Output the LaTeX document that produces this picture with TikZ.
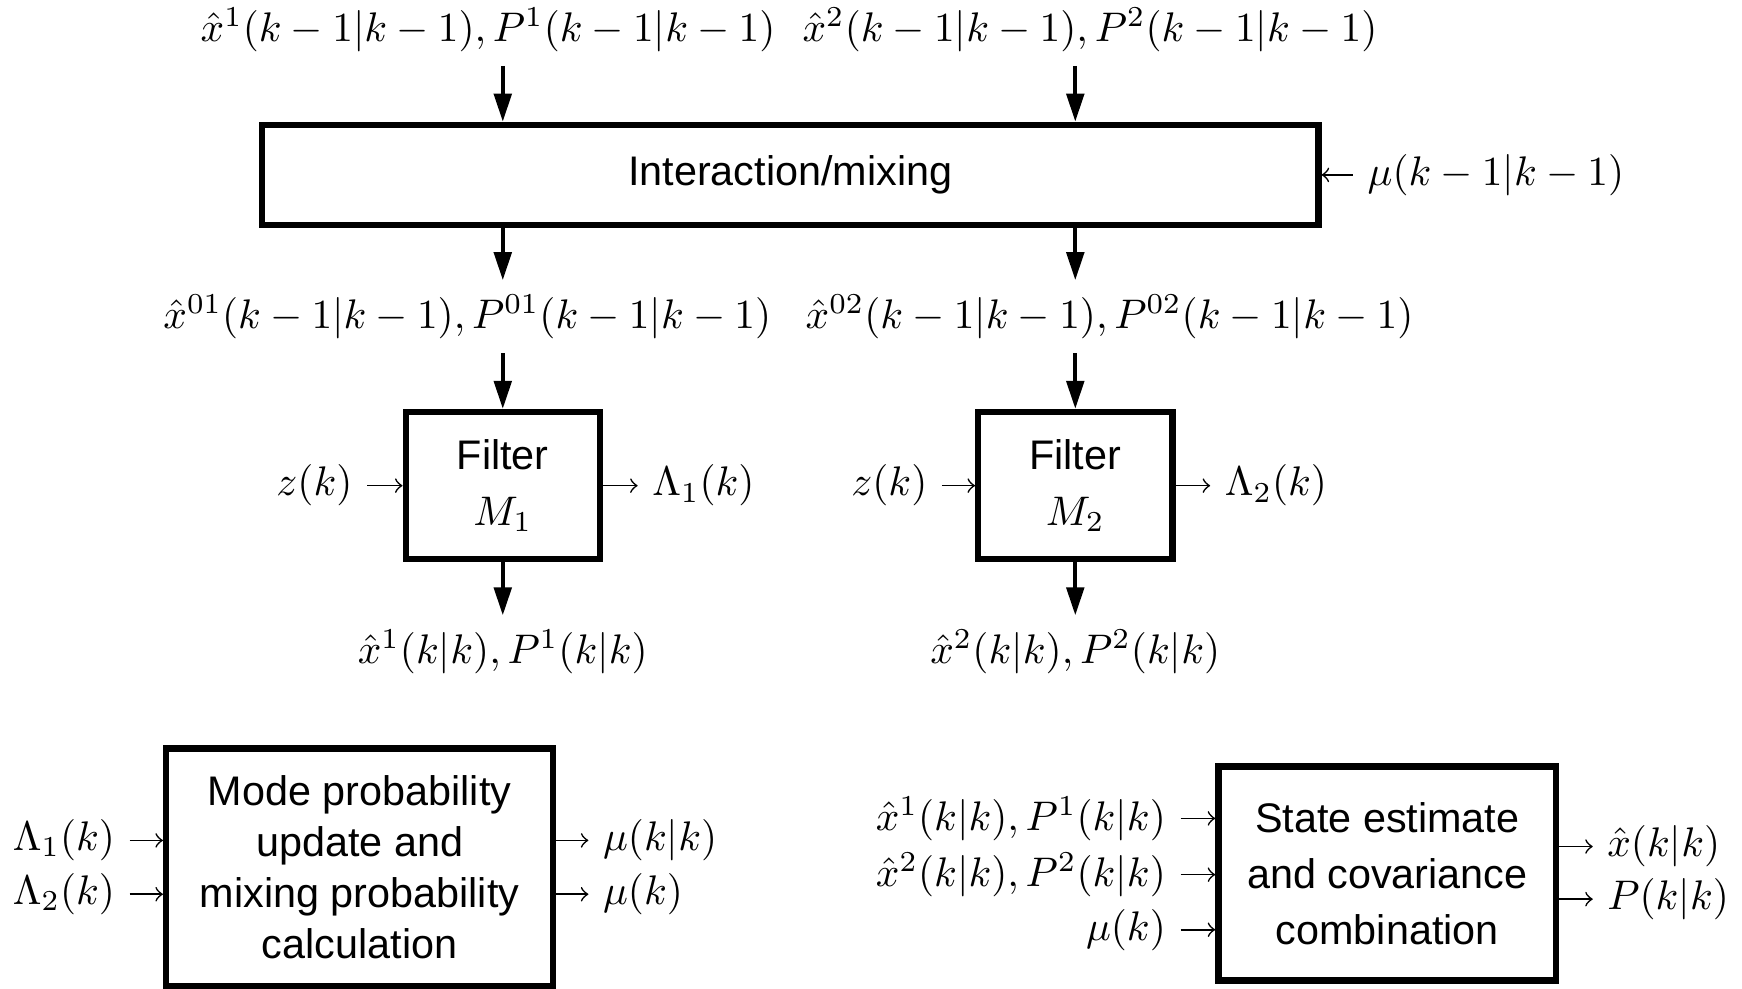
\documentclass[tikz,border=0pt]{standalone}
\usepackage[no-math]{fontspec}
\setsansfont{Liberation Sans}
\usetikzlibrary{arrows.meta}

\tikzset{
  block/.style={draw, line width=1.55pt, inner sep=0pt, align=center,
    font=\sffamily\fontsize{10}{13.5}\selectfont},
  flow/.style={line width=1.04pt, -{Triangle[length=6.8pt,width=4.2pt]}},
  feed/.style={line width=0.4pt, -to},
}

\begin{document}
\begin{tikzpicture}[x=1.04cm, y=1.04cm]
\useasboundingbox (0,0) rectangle (14.24,8.08);

% interaction / mixing
\node[block, minimum width=8.98cm, minimum height=0.85cm] (mix) at (6.46,6.65) {Interaction/mixing};
\node (in1) at (3.99,7.84) {$\hat{x}^1(k-1|k-1), P^1(k-1|k-1)$};
\node (in2) at (8.91,7.84) {$\hat{x}^2(k-1|k-1), P^2(k-1|k-1)$};
\node[anchor=west] (mu0) at (11.06,6.65) {$\mu(k-1|k-1)$};
\draw[feed] (mu0) -- (mix);

% filters
\node[block, minimum width=1.65cm, minimum height=1.25cm] (f1) at (4.11,4.11) {Filter\\$M_1$};
\node[block, minimum width=1.65cm, minimum height=1.25cm] (f2) at (8.79,4.11) {Filter\\$M_2$};
\node (m1) at (3.82,5.49) {$\hat{x}^{01}(k-1|k-1), P^{01}(k-1|k-1)$};
\node (m2) at (9.07,5.49) {$\hat{x}^{02}(k-1|k-1), P^{02}(k-1|k-1)$};
\node (o1) at (4.11,2.75) {$\hat{x}^1(k|k), P^1(k|k)$};
\node (o2) at (8.79,2.75) {$\hat{x}^2(k|k), P^2(k|k)$};
\node (z1) at (2.57,4.11) {$z(k)$};
\node (z2) at (7.27,4.11) {$z(k)$};
\node (l1) at (5.75,4.11) {$\Lambda_1(k)$};
\node (l2) at (10.43,4.11) {$\Lambda_2(k)$};

\draw[flow] (in1.south -| f1) -- (mix.north -| f1);
\draw[flow] (in2.south -| f2) -- (mix.north -| f2);
\draw[flow] (mix.south -| f1) -- (m1.north -| f1);
\draw[flow] (mix.south -| f2) -- (m2.north -| f2);
\draw[flow] (m1.south -| f1) -- (f1);
\draw[flow] (m2.south -| f2) -- (f2);
\draw[flow] (f1) -- (o1);
\draw[flow] (f2) -- (o2);
\draw[feed] (z1) -- (f1);
\draw[feed] (z2) -- (f2);
\draw[feed] (f1) -- (l1);
\draw[feed] (f2) -- (l2);

% mode probabilities
\node[block, minimum width=3.29cm, minimum height=2.02cm, font=\sffamily\fontsize{10}{12.3}\selectfont] (mode) at (2.94,0.99)
  {Mode probability\\update and\\mixing probability\\calculation};
\node[anchor=east] (lam1) at (1.06,1.21) {$\Lambda_1(k)$};
\node[anchor=east] (lam2) at (1.06,0.77) {$\Lambda_2(k)$};
\node[anchor=west] (mukk) at (4.81,1.21) {$\mu(k|k)$};
\node[anchor=west] (muk) at (4.81,0.77) {$\mu(k)$};
\draw[feed] (lam1) -- (lam1 -| mode.west);
\draw[feed] (lam2) -- (lam2 -| mode.west);
\draw[feed] (mukk -| mode.east) -- (mukk);
\draw[feed] (muk -| mode.east) -- (muk);

% combination
\node[block, minimum width=2.87cm, minimum height=1.82cm] (comb) at (11.34,0.94)
  {State estimate\\and covariance\\combination};
\node[anchor=east] (e1) at (9.65,1.39) {$\hat{x}^1(k|k), P^1(k|k)$};
\node[anchor=east] (e2) at (9.65,0.93) {$\hat{x}^2(k|k), P^2(k|k)$};
\node[anchor=east] (e3) at (9.65,0.48) {$\mu(k)$};
\node[anchor=west] (xo) at (13.02,1.16) {$\hat{x}(k|k)$};
\node[anchor=west] (po) at (13.02,0.73) {$P(k|k)$};
\draw[feed] (e1) -- (e1 -| comb.west);
\draw[feed] (e2) -- (e2 -| comb.west);
\draw[feed] (e3) -- (e3 -| comb.west);
\draw[feed] (xo -| comb.east) -- (xo);
\draw[feed] (po -| comb.east) -- (po);
\end{tikzpicture}
\end{document}
